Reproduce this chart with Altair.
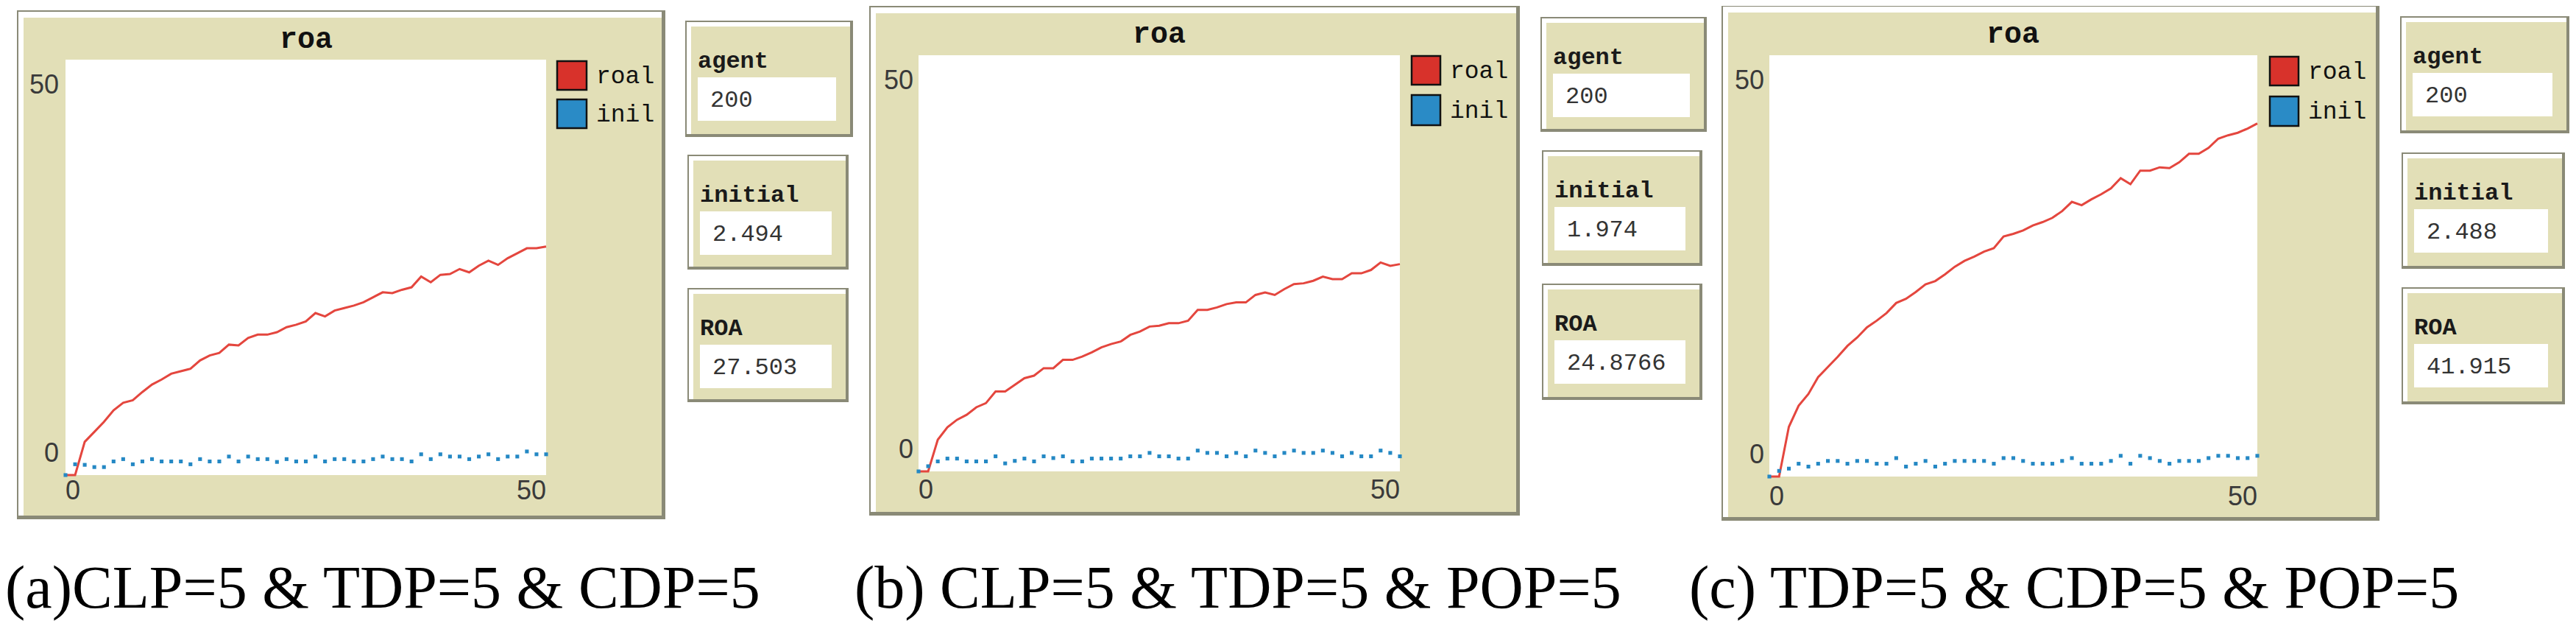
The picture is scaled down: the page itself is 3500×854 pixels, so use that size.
import altair as alt
import pandas as pd

# ---------------- data ----------------
STEPS = list(range(51))

ROAL_A = [0, 0, 4.0, 5.2, 6.4, 7.8, 8.7, 9.0, 10.0, 10.9,
          11.5, 12.2, 12.5, 12.8, 13.8, 14.4, 14.7, 15.7, 15.6, 16.5,
          16.9, 16.9, 17.2, 17.8, 18.1, 18.5, 19.5, 19.1, 19.8, 20.1,
          20.4, 20.8, 21.4, 22.0, 21.9, 22.3, 22.6, 23.9, 23.2, 24.1,
          24.2, 24.8, 24.4, 25.2, 25.8, 25.3, 26.1, 26.7, 27.3, 27.3, 27.5]
INIL_A = [0, 1.3, 1.23, 0.96, 0.96, 1.64, 1.92, 1.3, 1.64, 1.92, 1.64,
          1.64, 1.64, 1.3, 1.92, 1.64, 1.64, 2.23, 1.64, 2.23, 1.92,
          1.92, 1.58, 1.92, 1.64, 1.64, 2.23, 1.64, 1.92, 1.92, 1.64,
          1.64, 1.92, 2.23, 1.92, 1.92, 1.64, 2.5, 1.92, 2.5, 2.23,
          2.23, 1.92, 2.23, 2.5, 1.92, 2.23, 2.23, 2.84, 2.5, 2.5]

ROAL_B = [0, 0, 3.8, 5.3, 6.2, 6.8, 7.7, 8.2, 9.6, 9.6,
          10.4, 11.2, 11.5, 12.4, 12.4, 13.4, 13.4, 13.8, 14.3, 14.9,
          15.3, 15.6, 16.4, 16.8, 17.4, 17.5, 17.8, 17.8, 18.1, 19.4,
          19.4, 19.7, 20.1, 20.3, 20.3, 21.2, 21.5, 21.2, 21.9, 22.5,
          22.6, 22.9, 23.4, 23.1, 23.1, 23.8, 23.8, 24.2, 25.1, 24.7, 24.9]
INIL_B = [0, 0.62, 1.2, 1.54, 1.54, 1.2, 1.2, 1.2, 1.81, 0.96, 1.26,
          1.54, 1.2, 1.81, 1.6, 1.81, 1.2, 1.2, 1.54, 1.54, 1.54,
          1.54, 1.81, 1.81, 2.22, 1.81, 1.81, 1.54, 1.54, 2.5, 2.22,
          2.22, 1.81, 2.22, 1.81, 2.5, 2.22, 1.81, 2.22, 2.5, 2.22,
          2.22, 2.5, 2.22, 1.81, 2.22, 1.81, 1.81, 2.5, 2.22, 1.81]

ROAL_C = [0, 0, 5.9, 8.4, 9.8, 11.8, 13.0, 14.2, 15.5, 16.5,
          17.7, 18.5, 19.4, 20.6, 21.1, 21.9, 22.8, 23.2, 24.0, 24.9,
          25.6, 26.1, 26.7, 27.1, 28.5, 28.8, 29.2, 29.8, 30.2, 30.7,
          31.5, 32.6, 32.2, 32.9, 33.5, 34.2, 35.4, 34.7, 36.3, 36.3,
          36.7, 36.6, 37.3, 38.3, 38.3, 39.0, 40.1, 40.5, 40.8, 41.3, 41.9]
INIL_C = [0, 0.67, 0.94, 1.52, 1.18, 1.52, 1.85, 1.85, 1.52, 1.85, 1.85,
          1.52, 1.52, 2.19, 1.18, 1.52, 1.85, 1.18, 1.52, 1.85, 1.85,
          1.85, 1.85, 1.52, 2.19, 2.19, 1.85, 1.52, 1.52, 1.52, 1.85,
          2.19, 1.52, 1.52, 1.52, 1.85, 2.46, 1.52, 2.46, 2.19, 1.85,
          1.52, 1.85, 1.85, 1.85, 2.19, 2.46, 2.46, 2.19, 2.19, 2.46]

PANELS = ["a", "b", "c"]
ROAL = {"a": ROAL_A, "b": ROAL_B, "c": ROAL_C}
INIL = {"a": INIL_A, "b": INIL_B, "c": INIL_C}

SERIES = ["roal", "inil"]
SERIES_COLORS = ["#D8322B", "#2A8BC6"]
PLOT_TITLE = "roa"
Y_TICKS = [0, 50]
X_TICKS = [0, 50]
MONITOR_NAMES = ["agent", "initial", "ROA"]
MONITOR_VALUES = {
    "a": ["200", "2.494", "27.503"],
    "b": ["200", "1.974", "24.8766"],
    "c": ["200", "2.488", "41.915"],
}
CAPTIONS = {
    "a": "(a)CLP=5 & TDP=5 & CDP=5",
    "b": "(b) CLP=5 & TDP=5 & POP=5",
    "c": "(c) TDP=5 & CDP=5 & POP=5",
}

# ---------------- layout / style ----------------
BEIGE = "#E2DFB7"
SHADOW = "#8A8A77"
LINE_RED = "#E4463E"
POINT_BLUE = "#2488C4"
OFF = 8  # page margin

LAYOUT = {
    "a": dict(frame=(23, 904, 14, 705), plot=(89, 742, 81, 645), title=(416, 53),
              sw_x=(757, 797), sw_y=[(83, 122), (135, 174)], leg_x=810,
              ylab_x=80, xlab_y=667,
              monitors=[(931, 1159, 28, 186), (934, 1153, 210, 366), (934, 1153, 391, 546)],
              caption_x=7),
    "b": dict(frame=(1181, 2065, 8, 700), plot=(1248, 1902, 75, 640), title=(1575, 46),
              sw_x=(1918, 1957), sw_y=[(76, 115), (129, 170)], leg_x=1970,
              ylab_x=1241, xlab_y=666,
              monitors=[(2093, 2319, 23, 179), (2095, 2313, 204, 361), (2095, 2313, 385, 543)],
              caption_x=1161),
    "c": dict(frame=(2339, 3233, 7, 707), plot=(2404, 3067, 75, 647), title=(2735, 46),
              sw_x=(3084, 3123), sw_y=[(77, 116), (131, 171)], leg_x=3136,
              ylab_x=2397, xlab_y=675,
              monitors=[(3261, 3491, 22, 181), (3263, 3485, 207, 365), (3263, 3485, 390, 549)],
              caption_x=2295),
}


def px(v):
    return v - OFF


outer, light, face, whites, swatches = [], [], [], [], []
t_title, t_leg, t_mlab, t_mval, t_cap = [], [], [], [], []

for p in PANELS:
    L = LAYOUT[p]
    x0, x1, y0, y1 = L["frame"]
    outer.append(dict(x=px(x0), x2=px(x1), y=px(y0), y2=px(y1), fill=SHADOW))
    light.append(dict(x=px(x0 + 2), x2=px(x1 - 5), y=px(y0 + 2), y2=px(y1 - 5), fill="#FFFFFF"))
    face.append(dict(x=px(x0 + 9), x2=px(x1 - 5), y=px(y0 + 10), y2=px(y1 - 5), fill=BEIGE))
    a0, a1, b0, b1 = L["plot"]
    whites.append(dict(x=px(a0), x2=px(a1), y=px(b0), y2=px(b1), fill="#FFFFFF"))
    tx, ty = L["title"]
    t_title.append(dict(x=px(tx), y=px(ty), text=PLOT_TITLE))
    for i, s in enumerate(SERIES):
        sy0, sy1 = L["sw_y"][i]
        swatches.append(dict(x=px(L["sw_x"][0]), x2=px(L["sw_x"][1]), y=px(sy0), y2=px(sy1),
                             fill=SERIES_COLORS[i]))
        t_leg.append(dict(x=px(L["leg_x"]), y=px((sy0 + sy1) / 2), text=s))
    for j, (m0, m1, n0, n1) in enumerate(L["monitors"]):
        outer.append(dict(x=px(m0), x2=px(m1), y=px(n0), y2=px(n1), fill=SHADOW))
        light.append(dict(x=px(m0 + 2), x2=px(m1 - 4), y=px(n0 + 2), y2=px(n1 - 4), fill="#FFFFFF"))
        face.append(dict(x=px(m0 + 8), x2=px(m1 - 4), y=px(n0 + 8), y2=px(n1 - 4), fill=BEIGE))
        whites.append(dict(x=px(m0 + 17), x2=px(m1 - 23), y=px(n0 + 77), y2=px(n0 + 136),
                           fill="#FFFFFF"))
        t_mlab.append(dict(x=px(m0 + 17), y=px(n0 + 54), text=MONITOR_NAMES[j]))
        t_mval.append(dict(x=px(m0 + 34), y=px(n0 + 107), text=MONITOR_VALUES[p][j]))
    t_cap.append(dict(x=px(L["caption_x"]), y=px(825), text=CAPTIONS[p]))


def rect_layer(rows, **kw):
    return alt.Chart(pd.DataFrame(rows)).mark_rect(**kw).encode(
        x=alt.X("x:Q", scale=None, axis=None), x2="x2:Q",
        y=alt.Y("y:Q", scale=None, axis=None), y2="y2:Q",
        color=alt.Color("fill:N", scale=None, legend=None),
    )


def text_layer(rows, **kw):
    return alt.Chart(pd.DataFrame(rows)).mark_text(**kw).encode(
        x=alt.X("x:Q", scale=None, axis=None),
        y=alt.Y("y:Q", scale=None, axis=None),
        text="text:N",
    )


def panel_chart(p):
    L = LAYOUT[p]
    a0, a1, b0, b1 = L["plot"]
    xs = alt.Scale(domain=[0, 50], range=[px(a0), px(a1)], nice=False, zero=False)
    ys = alt.Scale(domain=[0, 50], range=[px(b1), px(b0)], nice=False, zero=False)
    df_r = pd.DataFrame({"step": STEPS, "value": ROAL[p]})
    df_i = pd.DataFrame({"step": STEPS, "value": INIL[p]})
    line = alt.Chart(df_r).mark_line(color=LINE_RED, strokeWidth=3).encode(
        x=alt.X("step:Q", scale=xs, axis=None),
        y=alt.Y("value:Q", scale=ys, axis=None),
    )
    pts = alt.Chart(df_i).mark_square(color=POINT_BLUE, size=26, opacity=1, filled=True).encode(
        x=alt.X("step:Q", scale=xs, axis=None),
        y=alt.Y("value:Q", scale=ys, axis=None),
    )
    ydf = pd.DataFrame({"v": Y_TICKS, "label": [str(t) for t in Y_TICKS]})
    xdf = pd.DataFrame({"v": X_TICKS, "label": [str(t) for t in X_TICKS]})
    tick_style = dict(font="Liberation Sans", fontSize=36, color="#3A3A3A")
    ytop = alt.Chart(ydf).transform_filter(alt.datum.v == max(Y_TICKS)).mark_text(
        align="right", baseline="middle", dy=35, **tick_style).encode(
        x=alt.value(px(L["ylab_x"])), y=alt.Y("v:Q", scale=ys, axis=None), text="label:N")
    ybot = alt.Chart(ydf).transform_filter(alt.datum.v == min(Y_TICKS)).mark_text(
        align="right", baseline="middle", dy=-29, **tick_style).encode(
        x=alt.value(px(L["ylab_x"])), y=alt.Y("v:Q", scale=ys, axis=None), text="label:N")
    xleft = alt.Chart(xdf).transform_filter(alt.datum.v == min(X_TICKS)).mark_text(
        align="left", baseline="middle", **tick_style).encode(
        x=alt.X("v:Q", scale=xs, axis=None), y=alt.value(px(L["xlab_y"])), text="label:N")
    xright = alt.Chart(xdf).transform_filter(alt.datum.v == max(X_TICKS)).mark_text(
        align="right", baseline="middle", **tick_style).encode(
        x=alt.X("v:Q", scale=xs, axis=None), y=alt.value(px(L["xlab_y"])), text="label:N")
    return alt.layer(line, pts, ytop, ybot, xleft, xright)


layers = [
    rect_layer(outer),
    rect_layer(light),
    rect_layer(face),
    rect_layer(whites),
    rect_layer(swatches, stroke="#111111", strokeWidth=2.5),
    panel_chart("a"),
    panel_chart("b"),
    panel_chart("c"),
    text_layer(t_title, font="Liberation Mono", fontSize=40, fontWeight="bold",
               align="center", baseline="middle", color="#111111"),
    text_layer(t_leg, font="Liberation Mono", fontSize=33, align="left",
               baseline="middle", color="#111111"),
    text_layer(t_mlab, font="Liberation Mono", fontSize=32, fontWeight="bold",
               align="left", baseline="middle", color="#1A1A1A"),
    text_layer(t_mval, font="Liberation Mono", fontSize=32, align="left",
               baseline="middle", color="#333333"),
    text_layer(t_cap, font="Liberation Serif", fontSize=82, align="left",
               baseline="alphabetic", color="#000000"),
]

chart = alt.layer(*layers).resolve_scale(
    x="independent", y="independent", color="independent"
).properties(
    width=3484, height=838,
    autosize=alt.AutoSizeParams(type="none"),
    padding=0,
    background="white",
).configure_view(stroke=None)

chart.save("out.html", embed_options={"renderer": "svg", "actions": False})
